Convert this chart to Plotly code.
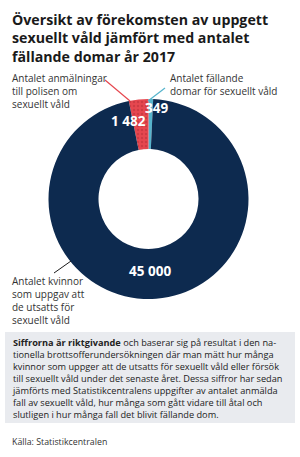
import plotly.graph_objects as go

W, H = 300, 457

# ---- data ----
categories = ["Antalet fällande domar för sexuellt våld",
              "Antalet anmälningar till polisen om sexuellt våld",
              "Antalet kvinnor som uppgav att de utsatts för sexuellt våld"]
values = [349, 1482, 45000]
colors = ["#56b4cc", "#e6474f", "#0d2a4f"]

title_lines = ["Översikt av förekomsten av uppgett",
               "sexuellt våld jämfört med antalet",
               "fällande domar år 2017"]
label_lines = [
    ["Antalet fällande", "domar för sexuellt våld"],
    ["Antalet anmälningar", "till polisen om", "sexuellt våld"],
    ["Antalet kvinnor", "som uppgav att", "de utsatts för", "sexuellt våld"],
]
note_lines = [
    "<b>Siffrorna är riktgivande</b> och baserar sig på resultat i den na-",
    "tionella brottsofferundersökningen där man mätt hur många",
    "kvinnor som uppger att de utsatts för sexuellt våld eller försök",
    "till sexuellt våld under det senaste året. Dessa siffror har sedan",
    "jämförts med Statistikcentralens uppgifter av antalet anmälda",
    "fall av sexuellt våld, hur många som gått vidare till åtal och",
    "slutligen i hur många fall det blivit fällande dom.",
]
source = "Källa: Statistikcentralen"

FONT = "Open Sans"


def px(x):
    return x / W


def py(y):
    return 1 - y / H


def fmt(v):
    return f"{v:,}".replace(",", " ")


fig = go.Figure()
cx, cy, r = 148.5, 199, 100
fig.add_trace(go.Pie(
    labels=categories, values=values, sort=False, direction="counterclockwise",
    rotation=0, hole=0.5, textinfo="none", hoverinfo="label+value",
    marker=dict(colors=colors, line=dict(width=0),
                pattern=dict(shape=["", ".", ""], fgcolor="#b52e38",
                             size=4, solidity=0.3, fillmode="overlay")),
    domain=dict(x=[px(cx - r), px(cx + r)], y=[py(cy + r), py(cy - r)]),
    showlegend=False,
))

ann = []
# title (top edge ~ y=9)
ann.append(dict(x=px(10), y=py(8), yanchor="top", align="left",
                text="<br>".join(f"<b>{t}</b>" for t in title_lines),
                font=dict(size=14.2, color="#1a1a1a", family=FONT)))
# labels (top edges)
pos = [(168, 69), (10, 69), (10, 272)]
for (x0, y0), lines in zip(pos, label_lines):
    ann.append(dict(x=px(x0), y=py(y0), yanchor="top", align="left",
                    text="<br>".join(lines),
                    font=dict(size=10, color="#333333", family=FONT)))
# value labels
vpos = [(156, 108), (128, 121), (150, 271)]
for (x0, y0), v in zip(vpos, values):
    ann.append(dict(x=px(x0), y=py(y0), text=f"<b>{fmt(v)}</b>", xanchor="center",
                    yanchor="middle",
                    font=dict(size=13.5, color="white", family=FONT)))
# note
ann.append(dict(x=px(10), y=py(334), yanchor="top", align="left",
                text="<br>".join(note_lines),
                font=dict(size=9.2, color="#222222", family=FONT)))
ann.append(dict(x=px(10), y=py(442), yanchor="middle", text=source,
                font=dict(size=8.8, color="#333333", family=FONT)))
for a in ann:
    a.setdefault("xanchor", "left")
    a.update(xref="paper", yref="paper", showarrow=False)

shapes = [
    dict(type="rect", xref="paper", yref="paper", x0=px(5), x1=px(295),
         y0=py(423), y1=py(332), fillcolor="#e9ebef", line=dict(width=0), layer="below"),
    dict(type="line", xref="paper", yref="paper", x0=px(105), y0=py(80),
         x1=px(130), y1=py(101), line=dict(color="#e6474f", width=1.2)),
    dict(type="line", xref="paper", yref="paper", x0=px(148), y0=py(101),
         x1=px(165), y1=py(88), line=dict(color="#56b4cc", width=1.2)),
    dict(type="line", xref="paper", yref="paper", x0=px(54), y0=py(273),
         x1=px(71), y1=py(261), line=dict(color="#1a1a1a", width=1)),
]

fig.update_layout(width=W, height=H, margin=dict(l=0, r=0, t=0, b=0),
                  paper_bgcolor="white", plot_bgcolor="white",
                  annotations=ann, shapes=shapes)
fig.write_html("out.html")
